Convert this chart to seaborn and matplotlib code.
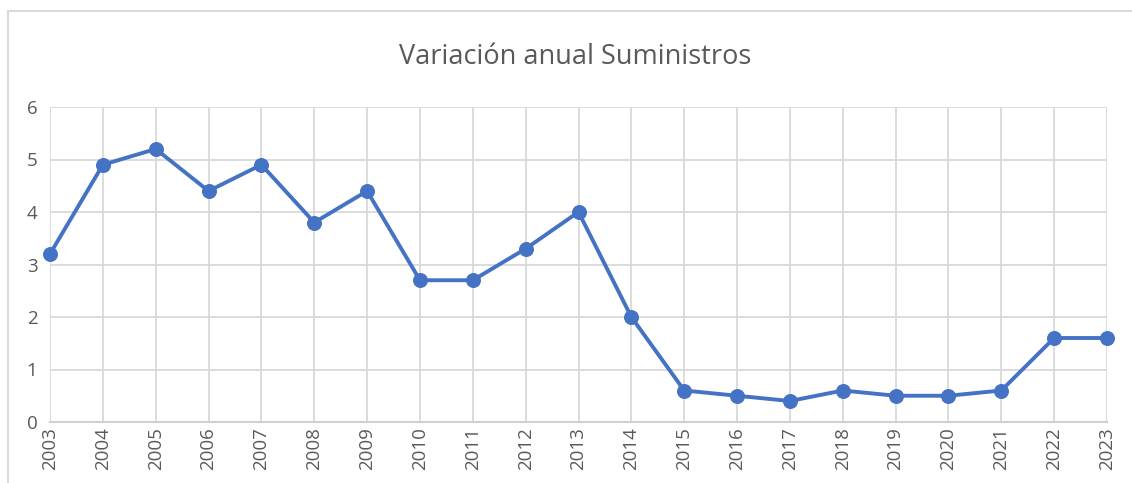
import pandas as pd
import seaborn as sns
import matplotlib.pyplot as plt
from matplotlib.patches import Rectangle

years = list(range(2003, 2024))
variacion = [3.2, 4.9, 5.2, 4.4, 4.9, 3.8, 4.4, 2.7, 2.7, 3.3, 4.0,
             2.0, 0.6, 0.5, 0.4, 0.6, 0.5, 0.5, 0.6, 1.6, 1.6]
y_ticks = [0, 1, 2, 3, 4, 5, 6]
title = "Variación anual Suministros"

df = pd.DataFrame({"year": years, "variacion": variacion})

sns.set_style("white")
plt.rcParams['font.family'] = ['Open Sans', 'DejaVu Sans']

text_col = '#595959'
grid_col = '#D9D9D9'
blue = '#4472C4'

fig = plt.figure(figsize=(11.32, 4.83), dpi=100)
ax = fig.add_axes([50 / 1132, 1 - 422 / 483, (1107 - 50) / 1132, (422 - 107) / 483])

# outer chart frame (cut off on right and bottom like the screenshot)
fig.patches.append(Rectangle((8 / 1132, -0.1), 1.2, 1 - 11 / 483 + 0.1,
                             transform=fig.transFigure, fill=False,
                             edgecolor='#D9D9D9', linewidth=1.5, zorder=0))

sns.lineplot(data=df, x="year", y="variacion", ax=ax, color=blue, linewidth=2.8,
             marker='o', markersize=10, markeredgecolor=blue, clip_on=False, zorder=5)

ax.set_xlim(2003, 2023)
ax.set_ylim(0, 6)
ax.set_xticks(years)
ax.set_xticklabels([str(y) for y in years], rotation=90, color=text_col, fontsize=13.5)
ax.set_yticks(y_ticks)
ax.set_yticklabels([str(v) for v in y_ticks], color=text_col, fontsize=13.5)
ax.tick_params(length=0)
ax.tick_params(axis='x', pad=4)
ax.tick_params(axis='y', pad=9)
ax.grid(True, color=grid_col, linewidth=1.3)
ax.set_axisbelow(True)
for side in ['top', 'right', 'left']:
    ax.spines[side].set_visible(False)
ax.spines['bottom'].set_color('#D0D0D0')
ax.spines['bottom'].set_linewidth(1.5)
ax.set_xlabel('')
ax.set_ylabel('')

fig.text(575 / 1132, 1 - 57 / 483, title, ha='center', va='center',
         fontsize=19.5, color=text_col)

fig.savefig('out.png', dpi=100)
